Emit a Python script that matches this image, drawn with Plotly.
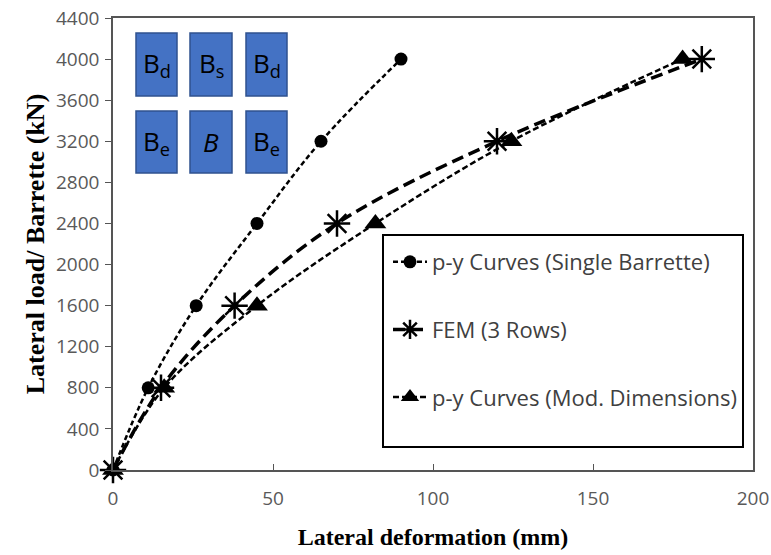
import plotly.graph_objects as go

# Data
single_x = [0, 11, 26, 45, 65, 90]
single_y = [0, 800, 1600, 2400, 3200, 4000]
fem_x = [0, 15, 38, 70, 120, 184]
fem_y = [0, 800, 1600, 2400, 3200, 4000]
mod_x = [0, 16, 45, 82, 124.5, 178]
mod_y = [0, 800, 1600, 2400, 3200, 4000]
names = ["p-y Curves (Single Barrette)", "FEM (3 Rows)", "p-y Curves (Mod. Dimensions)"]
y_ticks = list(range(0, 4401, 400))
x_ticks = [0, 50, 100, 150, 200]
box_labels = [["B<sub>d</sub>", "B<sub>s</sub>", "B<sub>d</sub>"],
              ["B<sub>e</sub>", "<i>B</i>", "B<sub>e</sub>"]]

fig = go.Figure()
fig.add_trace(go.Scatter(x=single_x, y=single_y, name=names[0], mode="lines+markers",
                         line=dict(color="black", width=2.5, dash="5px,3px", shape="spline"),
                         marker=dict(symbol="circle", size=13, color="black"),
                         legendgroup="a", cliponaxis=False))
fig.add_trace(go.Scatter(x=fem_x, y=fem_y, name=names[1], mode="lines+markers",
                         line=dict(color="black", width=3.5, dash="12px,6px", shape="spline"),
                         marker=dict(symbol="asterisk-open", size=22, color="black",
                                     line=dict(color="black", width=2.5)),
                         legendgroup="b", cliponaxis=False))
fig.add_trace(go.Scatter(x=mod_x, y=mod_y, name=names[2], mode="lines+markers",
                         line=dict(color="black", width=2.5, dash="6px,3px", shape="spline"),
                         marker=dict(symbol="triangle-up", size=19, color="black"),
                         legendgroup="c", cliponaxis=False))

# inset boxes
L, R, T, B = 113, 753, 18, 470
W, H = R - L, B - T
def px(x): return (x - L) / W
def py(y): return (B - y) / H
cols = [(136, 177), (190, 232), (246, 287)]
rows = [(33, 96), (111, 173)]
for ri, (y0, y1) in enumerate(rows):
    for ci, (x0, x1) in enumerate(cols):
        fig.add_shape(type="rect", xref="paper", yref="paper",
                      x0=px(x0), x1=px(x1), y0=py(y1), y1=py(y0),
                      fillcolor="#4472C4", line=dict(color="#2F528F", width=1.5), layer="above")
        fig.add_annotation(xref="paper", yref="paper", x=px((x0 + x1) / 2), y=py((y0 + y1) / 2),
                           xanchor="center", yanchor="middle",
                           text=box_labels[ri][ci], showarrow=False,
                           font=dict(family="Open Sans", size=26, color="black"))

# legend frame
fig.add_shape(type="rect", xref="paper", yref="paper",
              x0=px(383), x1=px(743), y0=py(447), y1=py(235),
              fillcolor="white", line=dict(color="black", width=2), layer="below")

fig.update_layout(
    width=771, height=555,
    margin=dict(l=L, r=771 - R, t=T, b=555 - B, autoexpand=False),
    plot_bgcolor="white", paper_bgcolor="white",
    showlegend=True,
    legend=dict(x=px(388), y=py(241), xanchor="left", yanchor="top",
                borderwidth=0, bgcolor="rgba(0,0,0,0)",
                font=dict(family="Open Sans", size=22, color="#404040"),
                tracegroupgap=36, itemwidth=34),
    xaxis=dict(range=[0, 200], tickvals=x_ticks, showgrid=False, zeroline=False,
               showline=True, linecolor="#555", linewidth=1.5, mirror=True,
               ticks="inside", ticklen=6, tickcolor="#555", ticklabelstandoff=10,
               automargin=False,
               tickfont=dict(family="Open Sans", size=19, color="#595959"),
               title=dict(text="<b>Lateral deformation (mm)</b>",
                          font=dict(family="Liberation Serif", size=24, color="black"),
                          standoff=19)),
    yaxis=dict(range=[0, 4400], tickvals=y_ticks, showgrid=False, zeroline=False,
               showline=True, linecolor="#555", linewidth=1.5, mirror=True,
               ticks="outside", ticklen=6, tickcolor="#555", ticklabelstandoff=2,
               automargin=False,
               tickfont=dict(family="Open Sans", size=19, color="#595959"),
               title=dict(text="<b>Lateral load/ Barrette (kN)</b>",
                          font=dict(family="Liberation Serif", size=26, color="black"),
                          standoff=4)),
)
fig.write_html("out.html")
